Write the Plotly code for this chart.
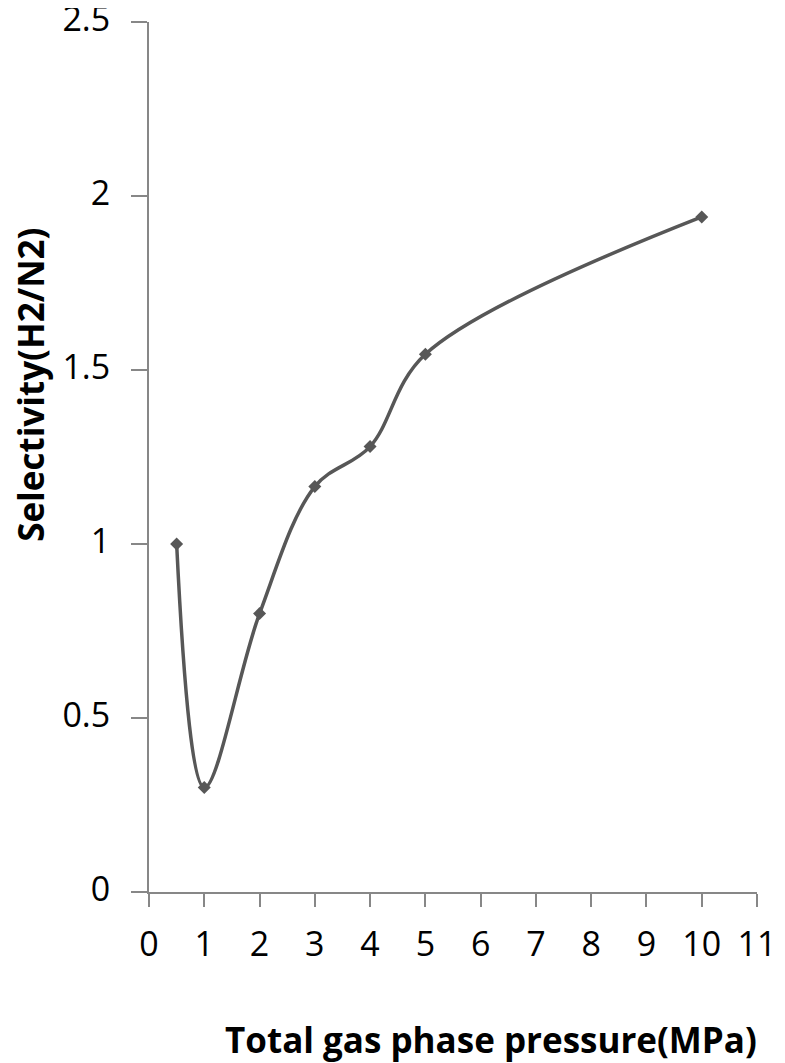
import plotly.graph_objects as go

# Total gas phase pressure (MPa)
pressure = [0.5, 1, 2, 3, 4, 5, 10]
# Selectivity H2/N2
selectivity = [1.0, 0.3, 0.8, 1.165, 1.28, 1.545, 1.94]

x_ticks = list(range(0, 12))
y_ticks = [0, 0.5, 1, 1.5, 2, 2.5]
y_tick_text = ["0", "0.5", "1", "1.5", "2", "2.5"]

axis_grey = "#878787"
line_grey = "#575757"

data = [go.Scatter(
    x=pressure,
    y=selectivity,
    mode="lines+markers",
    line=dict(color=line_grey, width=3.5, shape="spline", smoothing=1),
    marker=dict(symbol="diamond", size=10, color=line_grey),
    showlegend=False,
)]

# the page body has an 8px margin, so the figure is 8px smaller each way
layout = go.Layout(
    width=777,
    height=1055,
    margin=dict(l=141, r=28, t=14, b=171),
    paper_bgcolor="white",
    plot_bgcolor="white",
    font=dict(family="Open Sans", color="black"),
    xaxis=dict(
        range=[0, 11],
        tickvals=x_ticks,
        ticks="outside",
        ticklen=13,
        tickwidth=2,
        tickcolor=axis_grey,
        showline=True,
        linecolor=axis_grey,
        linewidth=2,
        showgrid=False,
        zeroline=False,
        automargin=False,
        ticklabelstandoff=8,
        ticklabeloverflow="allow",
        tickfont=dict(size=34, color="black"),
    ),
    yaxis=dict(
        range=[0, 2.5],
        tickvals=y_ticks,
        ticktext=y_tick_text,
        ticks="outside",
        ticklen=16,
        tickwidth=2,
        tickcolor=axis_grey,
        showline=True,
        linecolor=axis_grey,
        linewidth=2,
        showgrid=False,
        zeroline=False,
        automargin=False,
        ticklabelstandoff=14,
        ticklabelshift=-3,
        ticklabeloverflow="allow",
        tickfont=dict(size=34, color="black"),
    ),
    annotations=[
        dict(
            text="<b>Total gas phase pressure(MPa)</b>",
            xref="paper", yref="paper",
            x=0.5625, y=-0.1701,
            xanchor="center", yanchor="middle",
            showarrow=False,
            font=dict(size=35, color="black"),
        ),
        dict(
            text="<b>Selectivity(H2/N2)</b>",
            xref="paper", yref="paper",
            x=-0.194, y=0.583,
            xanchor="center", yanchor="middle",
            textangle=-90,
            showarrow=False,
            font=dict(size=35, color="black"),
        ),
    ],
)

fig = go.Figure(data=data, layout=layout)
fig.write_html("out.html")
